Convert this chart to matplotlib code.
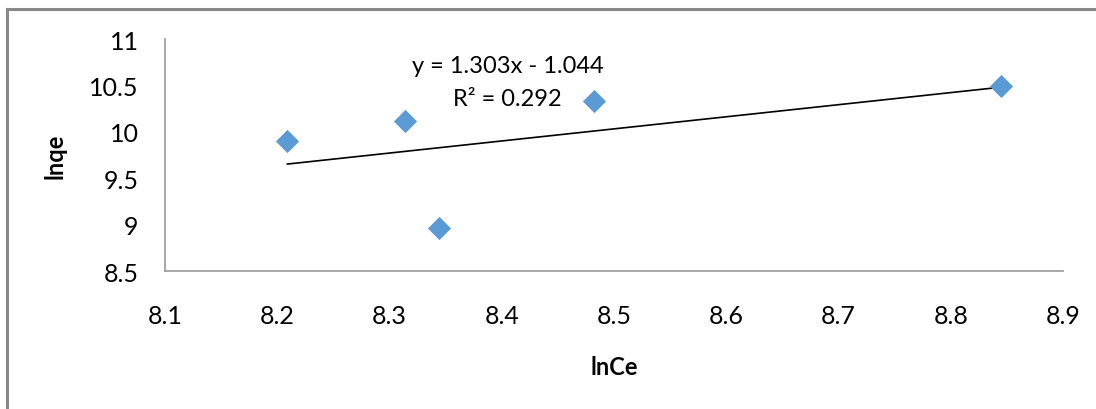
import matplotlib
matplotlib.use("Agg")
import matplotlib.pyplot as plt
from matplotlib.lines import Line2D
import numpy as np

# values
ln_ce = [8.209, 8.314, 8.344, 8.482, 8.845]
ln_qe = [9.90, 10.12, 8.963, 10.329, 10.49]
slope, intercept = 1.303, -1.044
r_squared = 0.292
x_ticks = [8.1, 8.2, 8.3, 8.4, 8.5, 8.6, 8.7, 8.8, 8.9]
y_ticks = [8.5, 9, 9.5, 10, 10.5, 11]

plt.rcParams['font.family'] = ['Lato', 'DejaVu Sans']

fig = plt.figure(figsize=(10.96, 4.10), dpi=100)
ax = fig.add_axes([165 / 1096, 1 - 272 / 410, (1063 - 165) / 1096, (272 - 40) / 410])

# outer chart border (only left and top visible)
grey = '#888888'
fig.add_artist(Line2D([7 / 1096, 7 / 1096], [0, 1 - 10 / 410], color=grey, lw=2.2, transform=fig.transFigure))
fig.add_artist(Line2D([7 / 1096, 1], [1 - 10 / 410, 1 - 10 / 410], color=grey, lw=2.2, transform=fig.transFigure))

ax.scatter(ln_ce, ln_qe, marker='D', s=140, color='#5B9BD5', linewidths=0, zorder=3)

tx = np.array([min(ln_ce), max(ln_ce)])
ax.plot(tx, slope * tx + intercept, color='black', lw=1.2, zorder=2)

ax.text(8.405, 10.71, f'y = {slope}x - {abs(intercept)}', ha='center', va='center', fontsize=17)
ax.text(8.405, 10.355, f'R² = {r_squared}', ha='center', va='center', fontsize=17)

ax.set_xlim(8.1, 8.9)
ax.set_ylim(8.5, 11)
ax.set_xticks(x_ticks)
ax.set_yticks(y_ticks)
ax.set_xticklabels([str(v) for v in x_ticks])
ax.set_yticklabels([str(v) for v in y_ticks])
ax.tick_params(axis='both', length=0, labelsize=18)
ax.tick_params(axis='x', pad=24)
ax.tick_params(axis='y', pad=19)

for side in ['top', 'right']:
    ax.spines[side].set_visible(False)
for side in ['left', 'bottom']:
    ax.spines[side].set_color('#999999')
    ax.spines[side].set_linewidth(1.2)

ax.set_xlabel('lnCe', fontsize=17, fontweight='bold', labelpad=20)
ax.set_ylabel('lnqe', fontsize=17, fontweight='bold', labelpad=16)

fig.savefig('out.png', dpi=100)
